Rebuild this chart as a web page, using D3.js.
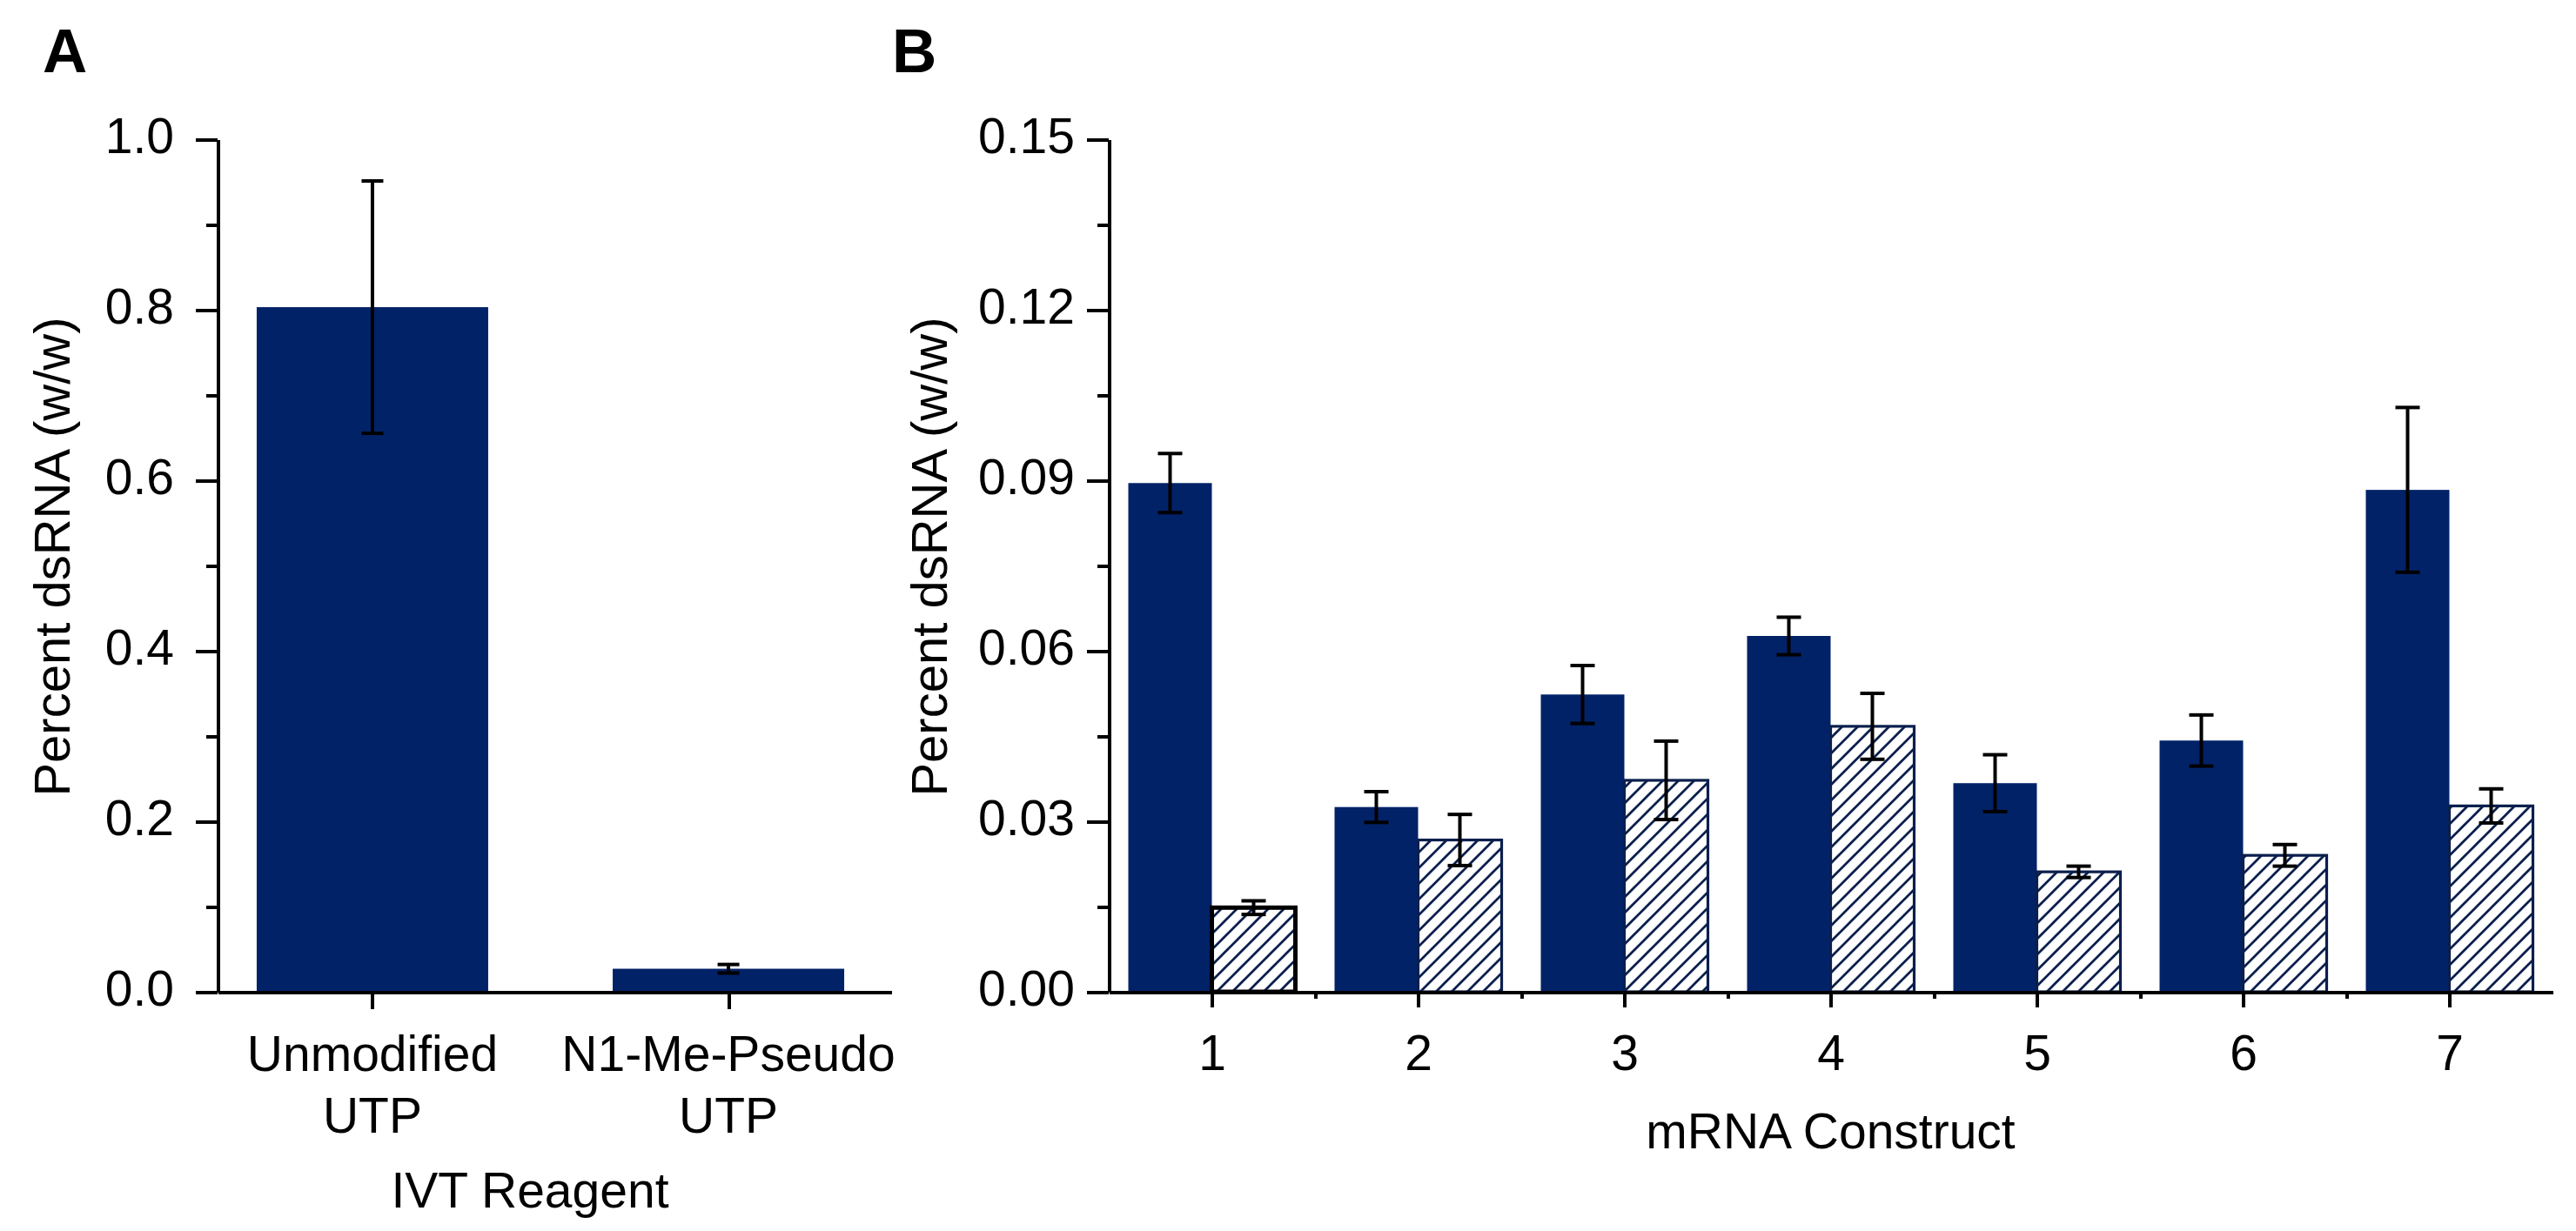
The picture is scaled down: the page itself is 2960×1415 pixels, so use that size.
<!DOCTYPE html>
<html>
<head>
<meta charset="utf-8">
<script src="https://cdn.jsdelivr.net/npm/d3@7"></script>
<style>
    body { margin: 0; background: #fff; }
    svg { display: block; font-family: "Liberation Sans", Arial, sans-serif; }
    .axis path, .axis line { stroke: #000; stroke-width: 4; shape-rendering: crispEdges; }
    .axis text { font-size: 57px; fill: #000; font-family: "Liberation Sans", Arial, sans-serif; }
</style>
</head>
<body>
<div id="chart"></div>
<script>
// Panel A data
const reagents = [["Unmodified", "UTP"], ["N1-Me-Pseudo", "UTP"]];
const reagentMeans = [0.803, 0.027];
const reagentErrs = [0.148, 0.005];
const ticksA = [0, 0.2, 0.4, 0.6, 0.8, 1.0];
const minorA = [0.1, 0.3, 0.5, 0.7, 0.9];

// Panel B data
const constructs = ["1", "2", "3", "4", "5", "6", "7"];
const solidMeans = [0.0895, 0.0325, 0.0523, 0.0626, 0.0367, 0.0442, 0.0883];
const solidErrs = [0.0052, 0.0027, 0.0051, 0.0033, 0.0050, 0.0045, 0.0145];
const hatchMeans = [0.0148, 0.0267, 0.0372, 0.0467, 0.0211, 0.0240, 0.0327];
const hatchErrs = [0.0012, 0.0045, 0.0069, 0.0058, 0.0010, 0.0019, 0.0030];
const ticksB = [0, 0.03, 0.06, 0.09, 0.12, 0.15];
const minorB = [0.015, 0.045, 0.075, 0.105, 0.135];

const navy = "#022268";
const hatchNavy = "#0b1f4d";

const svg = d3.select("#chart")
    .append("svg")
    .attr("width", 2960)
    .attr("height", 1415);

// hatch pattern
const defs = svg.append("defs");
const pat = defs.append("pattern")
    .attr("id", "hatch")
    .attr("patternUnits", "userSpaceOnUse")
    .attr("width", 18)
    .attr("height", 18);
pat.append("rect").attr("width", 18).attr("height", 18).attr("fill", "#fff");
pat.append("path")
    .attr("d", "M-4.5,4.5 L4.5,-4.5 M0,18 L18,0 M13.5,22.5 L22.5,13.5")
    .attr("stroke", hatchNavy)
    .attr("stroke-width", 2.8);

function errorBars(g, xs, means, errs, y, cap) {
    means.forEach((m, i) => {
        const x = xs[i];
        const y1 = y(m + errs[i]), y0 = y(m - errs[i]);
        g.append("line").attr("x1", x).attr("x2", x).attr("y1", y1).attr("y2", y0)
            .attr("stroke", "#000").attr("stroke-width", 4);
        [y1, y0].forEach(yy => {
            g.append("line").attr("x1", x - cap / 2).attr("x2", x + cap / 2)
                .attr("y1", yy).attr("y2", yy)
                .attr("stroke", "#000").attr("stroke-width", 4);
        });
    });
}

// ---------- Panel A ----------
const yA = d3.scaleLinear().domain([0, 1.0]).range([1140, 160]);
const xA = d3.scaleLinear().domain([0.565, 2.457]).range([250, 1024]);
const gA = svg.append("g");
const barWA = 266;

gA.selectAll(".barA")
    .data(reagentMeans)
    .enter().append("rect")
    .attr("class", "barA")
    .attr("x", (d, i) => xA(i + 1) - barWA / 2)
    .attr("y", d => yA(d))
    .attr("width", barWA)
    .attr("height", d => yA(0) - yA(d))
    .attr("fill", navy);

errorBars(gA, reagentMeans.map((d, i) => xA(i + 1)), reagentMeans, reagentErrs, yA, 25);

// minor y ticks
gA.append("g").attr("class", "axis")
    .attr("transform", "translate(250,0)")
    .call(d3.axisLeft(yA).tickValues(minorA).tickSize(13).tickFormat(""))
    .select(".domain").remove();

gA.append("g").attr("class", "axis")
    .attr("transform", "translate(250,0)")
    .call(d3.axisLeft(yA).tickValues(ticksA).tickSize(25).tickSizeOuter(0).tickFormat(d3.format(".1f")))
    .selectAll("text")
    .attr("x", -50).attr("dy", 0).attr("y", 15);

gA.append("g").attr("class", "axis")
    .attr("transform", "translate(0,1140)")
    .call(d3.axisBottom(xA).tickValues([1, 2]).tickSize(20).tickSizeOuter(0).tickFormat(""));

reagents.forEach((lines, i) => {
    const t = gA.append("text")
        .attr("text-anchor", "middle")
        .style("font-size", "57px");
    lines.forEach((ln, j) => {
        t.append("tspan").attr("x", xA(i + 1)).attr("y", 1231 + j * 71).text(ln);
    });
});

gA.append("text")
    .attr("x", (250 + 1024) / 2 - 28).attr("y", 1388)
    .attr("text-anchor", "middle")
    .style("font-size", "57px")
    .text("IVT Reagent");

gA.append("text")
    .attr("transform", "translate(80,640) rotate(-90)")
    .attr("text-anchor", "middle")
    .style("font-size", "58px")
    .text("Percent dsRNA (w/w)");

gA.append("text")
    .attr("x", 49).attr("y", 83)
    .style("font-size", "71px").style("font-weight", "bold")
    .text("A");

// ---------- Panel B ----------
const yB = d3.scaleLinear().domain([0, 0.15]).range([1140, 160]);
const xB = d3.scaleLinear().domain([0.5, 7.5]).range([1274, 2933]);
const gB = svg.append("g");
const barWB = 96;

gB.selectAll(".solidB")
    .data(solidMeans)
    .enter().append("rect")
    .attr("class", "solidB")
    .attr("x", (d, i) => xB(i + 1) - barWB)
    .attr("y", d => yB(d))
    .attr("width", barWB)
    .attr("height", d => yB(0) - yB(d))
    .attr("fill", navy);

gB.selectAll(".hatchB")
    .data(hatchMeans)
    .enter().append("rect")
    .attr("class", "hatchB")
    .attr("x", (d, i) => xB(i + 1))
    .attr("y", d => yB(d))
    .attr("width", barWB)
    .attr("height", d => yB(0) - yB(d))
    .attr("fill", "url(#hatch)")
    .attr("stroke", (d, i) => i === 0 ? "#000" : hatchNavy)
    .attr("stroke-width", (d, i) => i === 0 ? 5 : 3.2);

errorBars(gB, solidMeans.map((d, i) => xB(i + 1) - barWB / 2), solidMeans, solidErrs, yB, 28);
errorBars(gB, hatchMeans.map((d, i) => xB(i + 1) + barWB / 2), hatchMeans, hatchErrs, yB, 28);

gB.append("g").attr("class", "axis")
    .attr("transform", "translate(1274,0)")
    .call(d3.axisLeft(yB).tickValues(minorB).tickSize(13).tickFormat(""))
    .select(".domain").remove();

gB.append("g").attr("class", "axis")
    .attr("transform", "translate(1274,0)")
    .call(d3.axisLeft(yB).tickValues(ticksB).tickSize(25).tickSizeOuter(0).tickFormat(d3.format(".2f")))
    .selectAll("text")
    .attr("x", -39).attr("dy", 0).attr("y", 15);

gB.append("g").attr("class", "axis")
    .attr("transform", "translate(0,1140)")
    .call(d3.axisBottom(xB).tickValues([1.5, 2.5, 3.5, 4.5, 5.5, 6.5]).tickSize(8).tickFormat(""))
    .select(".domain").remove();

gB.append("g").attr("class", "axis")
    .attr("transform", "translate(0,1140)")
    .call(d3.axisBottom(xB).tickValues(constructs.map(Number)).tickSize(18).tickSizeOuter(0)
        .tickFormat((d, i) => constructs[i]))
    .selectAll("text")
    .attr("dy", 0).attr("y", 90);

gB.append("text")
    .attr("x", (1274 + 2933) / 2).attr("y", 1320)
    .attr("text-anchor", "middle")
    .style("font-size", "57px")
    .text("mRNA Construct");

gB.append("text")
    .attr("transform", "translate(1088,640) rotate(-90)")
    .attr("text-anchor", "middle")
    .style("font-size", "58px")
    .text("Percent dsRNA (w/w)");

gB.append("text")
    .attr("x", 1025).attr("y", 83)
    .style("font-size", "71px").style("font-weight", "bold")
    .text("B");
</script>
</body>
</html>
